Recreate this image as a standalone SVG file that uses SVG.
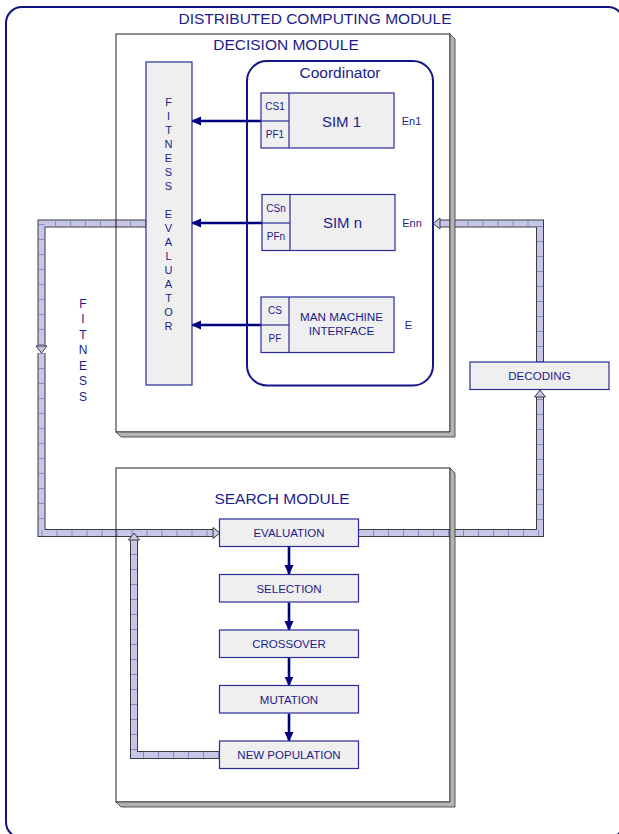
<svg xmlns="http://www.w3.org/2000/svg" xmlns:xlink="http://www.w3.org/1999/xlink" width="619" height="834" viewBox="0 0 619 834">
<style>
.t{font-family:"Liberation Sans",Arial,sans-serif;fill:#1c1c8c;text-anchor:middle}
.frame{fill:none;stroke:#10107e;stroke-width:2}
.mod{fill:none;stroke:#222;stroke-width:1}
.bev{fill:#b4b4b4;stroke:#333;stroke-width:0.8}
.box{fill:#efefef;stroke:#2a2a9a;stroke-width:1.2}
.coord{fill:none;stroke:#14148a;stroke-width:2}
.po{fill:none;stroke:#3c3c3c;stroke-width:8;stroke-linejoin:miter}
.pi{fill:none;stroke:#c6c6e6;stroke-width:6;stroke-linejoin:miter}
.pt{fill:none;stroke:#8a8ac2;stroke-width:6;stroke-dasharray:1 14}
.ph{fill:#c6c6e6;stroke:#3c3c3c;stroke-width:1}
.ar{fill:none;stroke:#000080;stroke-width:2.6}
</style>
<defs>
<marker id="ah" markerUnits="userSpaceOnUse" markerWidth="11" markerHeight="10" refX="9" refY="5" orient="auto">
<path d="M0,0.5 L10,5 L0,9.5 Z" fill="#000080"/>
</marker>
<path id="phead" d="M-7,-5.5 L0,0 L-7,5.5 Z"/>
</defs>
<rect width="619" height="834" fill="#fff"/>
<rect id="distributed-computing-module" class="frame" x="6" y="7" width="618" height="831" rx="16"/>
<g id="connectors">
<path class="po" d="M146,223.5 H41.5 V346"/>
<path class="pi" d="M146,223.5 H41.5 V346"/>
<path class="pt" d="M146,223.5 H41.5 V346"/>
<path class="po" d="M41.5,353 V533 H213"/>
<path class="pi" d="M41.5,353 V533 H213"/>
<path class="pt" d="M41.5,353 V533 H213"/>
<path class="po" d="M358,533 H540 V397"/>
<path class="pi" d="M358,533 H540 V397"/>
<path class="pt" d="M358,533 H540 V397"/>
<path class="po" d="M540,362 V223.5 H440"/>
<path class="pi" d="M540,362 V223.5 H440"/>
<path class="pt" d="M540,362 V223.5 H440"/>
<path class="po" d="M219,755 H134 V540"/>
<path class="pi" d="M219,755 H134 V540"/>
<path class="pt" d="M219,755 H134 V540"/>
<use xlink:href="#phead" class="ph" transform="translate(41.5,353) rotate(90)"/>
<use xlink:href="#phead" class="ph" transform="translate(220,533)"/>
<use xlink:href="#phead" class="ph" transform="translate(540,390) rotate(-90)"/>
<use xlink:href="#phead" class="ph" transform="translate(433,223.5) rotate(180)"/>
<use xlink:href="#phead" class="ph" transform="translate(134,533) rotate(-90)"/>
<line class="ar" x1="261" y1="121" x2="192" y2="121" marker-end="url(#ah)"/>
<line class="ar" x1="262" y1="223" x2="192" y2="223" marker-end="url(#ah)"/>
<line class="ar" x1="261" y1="325" x2="192" y2="325" marker-end="url(#ah)"/>
<line class="ar" x1="289" y1="547" x2="289" y2="574" marker-end="url(#ah)"/>
<line class="ar" x1="289" y1="602.5" x2="289" y2="630" marker-end="url(#ah)"/>
<line class="ar" x1="289" y1="658" x2="289" y2="685.5" marker-end="url(#ah)"/>
<line class="ar" x1="289" y1="713.5" x2="289" y2="741" marker-end="url(#ah)"/>
</g>
<g id="decision-module">
<rect class="mod" x="116" y="34" width="334" height="398"/>
<polygon class="bev" points="450,34 455,39 455,437 121,437 116,432 450,432"/>
<text class="t" x="286" y="50" font-size="15.5">DECISION MODULE</text>
</g>
<g id="search-module">
<rect class="mod" x="116" y="468" width="334" height="334"/>
<polygon class="bev" points="450,468 455,473 455,807 121,807 116,802 450,802"/>
<text class="t" x="282" y="504" font-size="15.5">SEARCH MODULE</text>
</g>
<text class="t" x="315" y="24" font-size="15.5">DISTRIBUTED COMPUTING MODULE</text>
<g id="fitness-evaluator">
<rect class="box" x="146" y="62" width="46" height="323"/>
<g class="t" font-size="11">
<text x="168.5" y="106">F</text><text x="168.5" y="120">I</text><text x="168.5" y="134">T</text><text x="168.5" y="148">N</text><text x="168.5" y="162">E</text><text x="168.5" y="176">S</text><text x="168.5" y="190">S</text>
<text x="168.5" y="218">E</text><text x="168.5" y="232">V</text><text x="168.5" y="246">A</text><text x="168.5" y="260">L</text><text x="168.5" y="274">U</text><text x="168.5" y="288">A</text><text x="168.5" y="302">T</text><text x="168.5" y="316">O</text><text x="168.5" y="330">R</text>
</g>
</g>
<g id="coordinator">
<rect class="coord" x="247" y="61" width="186" height="324.5" rx="20"/>
<text class="t" x="340" y="78" font-size="15.5">Coordinator</text>
</g>
<g id="sim-1">
<rect class="box" x="261" y="93" width="133" height="55"/>
<line class="box" x1="289" y1="93" x2="289" y2="148"/>
<line class="box" x1="261" y1="121" x2="289" y2="121"/>
<text class="t" x="275" y="110" font-size="10">CS1</text>
<text class="t" x="275" y="138" font-size="10">PF1</text>
<text class="t" x="341.5" y="126.5" font-size="15">SIM 1</text>
<text class="t" x="411.5" y="125" font-size="11">En1</text>
</g>
<g id="sim-n">
<rect class="box" x="262" y="194.5" width="133" height="56"/>
<line class="box" x1="290" y1="194.5" x2="290" y2="250.5"/>
<line class="box" x1="262" y1="223" x2="290" y2="223"/>
<text class="t" x="276" y="212" font-size="10">CSn</text>
<text class="t" x="276" y="240" font-size="10">PFn</text>
<text class="t" x="342.5" y="227.5" font-size="15">SIM n</text>
<text class="t" x="412" y="227" font-size="11">Enn</text>
</g>
<g id="man-machine-interface">
<rect class="box" x="261" y="297" width="133" height="55.5"/>
<line class="box" x1="289" y1="297" x2="289" y2="352.5"/>
<line class="box" x1="261" y1="325" x2="289" y2="325"/>
<text class="t" x="275" y="314" font-size="10">CS</text>
<text class="t" x="275" y="342" font-size="10">PF</text>
<text class="t" x="341.5" y="321" font-size="11.7">MAN MACHINE</text>
<text class="t" x="341.5" y="335" font-size="11.7">INTERFACE</text>
<text class="t" x="408.5" y="328.5" font-size="11">E</text>
</g>
<g id="fitness-label" class="t" font-size="12">
<text x="83" y="307.5">F</text><text x="83" y="323">I</text><text x="83" y="338.5">T</text><text x="83" y="354">N</text><text x="83" y="369.5">E</text><text x="83" y="385">S</text><text x="83" y="400.5">S</text>
</g>
<g id="decoding">
<rect class="box" x="470" y="362" width="139" height="27.5"/>
<text class="t" x="539.5" y="380" font-size="11.6">DECODING</text>
</g>
<g id="evaluation">
<rect class="box" x="219.5" y="519" width="139" height="27.5"/>
<text class="t" x="289" y="537" font-size="11.5">EVALUATION</text>
</g>
<g id="selection">
<rect class="box" x="219.5" y="574.5" width="139" height="27.5"/>
<text class="t" x="289" y="592.5" font-size="11.5">SELECTION</text>
</g>
<g id="crossover">
<rect class="box" x="219.5" y="630" width="139" height="27.5"/>
<text class="t" x="289" y="648" font-size="11.5">CROSSOVER</text>
</g>
<g id="mutation">
<rect class="box" x="219.5" y="685.5" width="139" height="27.5"/>
<text class="t" x="289" y="703.5" font-size="11.5">MUTATION</text>
</g>
<g id="new-population">
<rect class="box" x="219.5" y="741" width="139" height="27.5"/>
<text class="t" x="289" y="759" font-size="11.5">NEW POPULATION</text>
</g>
</svg>
